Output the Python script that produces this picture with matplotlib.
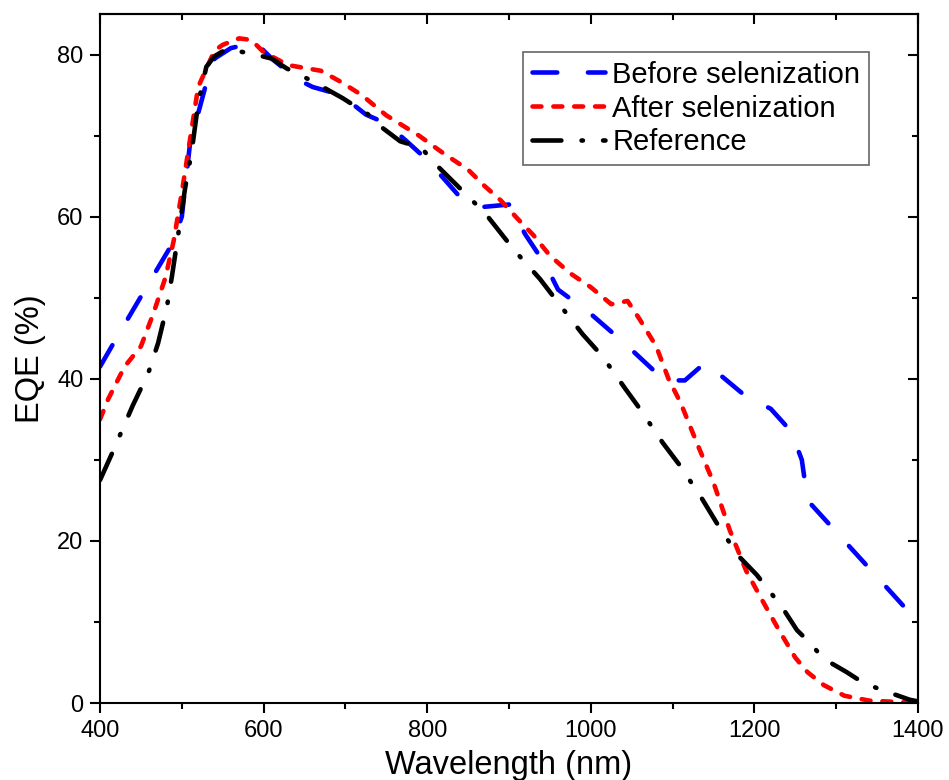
import numpy as np
import matplotlib
matplotlib.use('Agg')
import matplotlib.pyplot as plt
from matplotlib.ticker import MultipleLocator

plt.rcParams['font.family'] = ['Liberation Sans', 'DejaVu Sans']

# EQE curves
wl_before = [400, 420, 455, 488, 500, 510, 530, 540, 560, 590, 610, 640, 660,
             695, 725, 750, 775, 800, 822, 842, 868, 900, 920, 945, 960,
             1000, 1040, 1090, 1115, 1140, 1190, 1220, 1245, 1258, 1265, 1400]
eqe_before = [41.5, 45, 51, 56.6, 60, 69, 76.5, 79.5, 80.8, 81.5, 79.5, 77, 76,
              75, 72.6, 71.5, 69.3, 67, 64.5, 62.2, 61.2, 61.5, 57.8, 54, 51,
              48, 44.5, 39.8, 39.8, 42, 37.8, 36.3, 33.5, 30, 25, 10]

wl_after = [400, 410, 430, 450, 465, 480, 490, 500, 520, 540, 550, 570, 585,
            600, 630, 670, 695, 720, 750, 790, 820, 850, 870, 890, 910, 930,
            950, 975, 1000, 1025, 1045, 1060, 1080, 1095, 1110, 1130, 1150,
            1170, 1190, 1210, 1230, 1250, 1265, 1285, 1310, 1340, 1400]
eqe_after = [35, 37.5, 41.5, 44, 48, 52.5, 57, 63, 76, 80.5, 81.2, 82, 81.8,
             80.3, 78.7, 78, 76.6, 75, 72.5, 70, 67.8, 65.8, 63.8, 62, 59.8, 57.7,
             55.2, 53, 51.3, 49.2, 49.6, 47.3, 44, 40, 37, 32, 27.2,
             21.3, 16.3, 12.6, 9, 5.6, 3.8, 2.2, 0.9, 0.3, 0]

wl_ref = [400, 416, 440, 459, 471, 482, 488, 495, 504, 512, 520, 530, 540,
          555, 590, 610, 628, 660, 697, 728, 746, 767, 793, 807, 852, 871,
          907, 938, 960, 990, 1014, 1042, 1060, 1088, 1109, 1136, 1154, 1180,
          1203, 1234, 1252, 1270, 1284, 1313, 1333, 1356, 1390, 1400]
eqe_ref = [27.5, 31.1, 36.7, 40.7, 44.4, 49, 52.7, 57.4, 63.5, 68, 74, 78.5, 79.8,
           80.7, 80, 79.5, 78.3, 76.7, 74.6, 72.6, 70.9, 69.3, 68.5, 66.8, 62.3, 60.4,
           55.8, 52.3, 49.4, 45.5, 42.8, 38.8, 36.3, 32.1, 29.3, 25.2, 22.2, 18.2,
           15.8, 11.8, 9, 7.2, 5.5, 3.8, 2.5, 1.6, 0.4, 0.2]

labels = ['Before selenization', 'After selenization', 'Reference']


def main():
    fig = plt.figure(figsize=(9.49, 7.8), dpi=100)
    ax = fig.add_axes([0.1054, 0.0987, 0.8619, 0.8833])

    lw = 3.3
    l1, = ax.plot(wl_before, eqe_before, color='blue', lw=lw,
                  dashes=(5.4, 6.7), label=labels[0])
    l2, = ax.plot(wl_after, eqe_after, color='red', lw=lw,
                  dashes=(1.95, 2.6), label=labels[1])
    l3, = ax.plot(wl_ref, eqe_ref, color='black', lw=lw,
                  dashes=(6.3, 4.4, 0.3, 4.4), label=labels[2])
    for l in (l1, l2, l3):
        l.set_dash_capstyle('round')
        l.set_solid_capstyle('round')

    ax.set_xlim(400, 1400)
    ax.set_ylim(0, 85)
    ax.xaxis.set_major_locator(MultipleLocator(200))
    ax.xaxis.set_minor_locator(MultipleLocator(100))
    ax.yaxis.set_major_locator(MultipleLocator(20))
    ax.yaxis.set_minor_locator(MultipleLocator(10))
    ax.tick_params(which='major', direction='out', length=7, width=1.5,
                   labelsize=17, pad=5)
    ax.tick_params(which='minor', direction='out', length=4.5, width=1.5)

    # inward ticks on top and right, no labels
    top = ax.secondary_xaxis('top')
    top.xaxis.set_major_locator(MultipleLocator(200))
    top.xaxis.set_minor_locator(MultipleLocator(100))
    top.tick_params(which='both', direction='in', labeltop=False, width=1.5)
    top.tick_params(which='major', length=7)
    top.tick_params(which='minor', length=4.5)
    right = ax.secondary_yaxis('right')
    right.yaxis.set_major_locator(MultipleLocator(20))
    right.yaxis.set_minor_locator(MultipleLocator(10))
    right.tick_params(which='both', direction='in', labelright=False, width=1.5)
    right.tick_params(which='major', length=7)
    right.tick_params(which='minor', length=4.5)

    for s in ax.spines.values():
        s.set_linewidth(1.5)
    top.spines['top'].set_linewidth(1.5)
    right.spines['right'].set_linewidth(1.5)

    ax.set_xlabel('Wavelength (nm)', fontsize=23.5, labelpad=6)
    ax.set_ylabel('EQE (%)', fontsize=23.5, labelpad=8)

    leg = ax.legend(loc='upper right', bbox_to_anchor=(0.94, 0.945),
                    fontsize=21, handlelength=2.5, handletextpad=0.25,
                    labelspacing=0.2, borderpad=0.3, borderaxespad=0,
                    fancybox=False, framealpha=1)
    leg.get_frame().set_edgecolor('#666666')
    leg.get_frame().set_linewidth(1.2)

    fig.savefig('out.png', dpi=100)


if __name__ == '__main__':
    main()
